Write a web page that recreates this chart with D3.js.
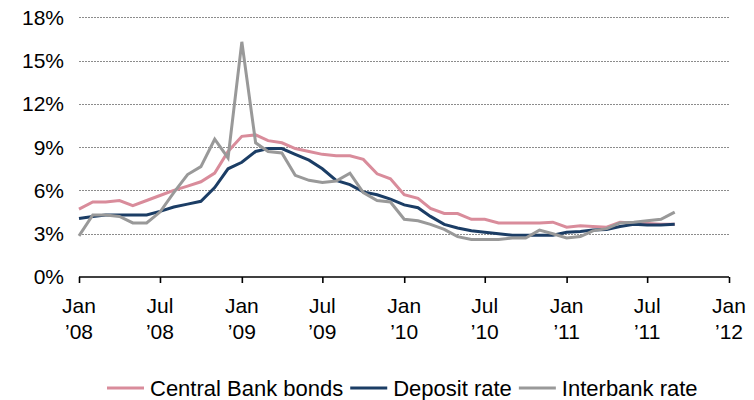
<!DOCTYPE html>
<html>
<head>
<meta charset="utf-8">
<script src="https://cdn.jsdelivr.net/npm/d3@7"></script>
<style>
  html, body { margin: 0; padding: 0; background: #ffffff; }
  svg { display: block; font-family: "Liberation Sans", Arial, sans-serif; }
</style>
</head>
<body>
<svg id="chart" width="754" height="400"></svg>
<script>
// Monthly observations, January 2008 to September 2011
const months = [
  "2008-01","2008-02","2008-03","2008-04","2008-05","2008-06","2008-07","2008-08","2008-09","2008-10","2008-11","2008-12",
  "2009-01","2009-02","2009-03","2009-04","2009-05","2009-06","2009-07","2009-08","2009-09","2009-10","2009-11","2009-12",
  "2010-01","2010-02","2010-03","2010-04","2010-05","2010-06","2010-07","2010-08","2010-09","2010-10","2010-11","2010-12",
  "2011-01","2011-02","2011-03","2011-04","2011-05","2011-06","2011-07","2011-08","2011-09"
];

// Rates, in percent
const centralBankBonds = [
  4.7, 5.2, 5.2, 5.3, 4.95, 5.3, 5.65, 6.0, 6.3, 6.6, 7.2, 8.7,
  9.75, 9.85, 9.45, 9.3, 8.9, 8.7, 8.5, 8.4, 8.4, 8.15, 7.15, 6.8,
  5.7, 5.45, 4.75, 4.4, 4.4, 4.0, 4.0, 3.75, 3.75, 3.75, 3.75, 3.8,
  3.45, 3.55, 3.5, 3.45, 3.8, 3.75, 3.7, 3.65, 3.65
];
const depositRate = [
  4.05, 4.2, 4.3, 4.3, 4.3, 4.3, 4.55, 4.85, 5.05, 5.25, 6.2, 7.5,
  7.95, 8.7, 8.9, 8.9, 8.5, 8.1, 7.5, 6.7, 6.4, 5.9, 5.7, 5.4,
  5.0, 4.8, 4.2, 3.65, 3.4, 3.2, 3.1, 3.0, 2.9, 2.9, 2.9, 2.9,
  3.1, 3.15, 3.25, 3.3, 3.5, 3.65, 3.6, 3.6, 3.65
];
const interbankRate = [
  2.85, 4.3, 4.3, 4.2, 3.75, 3.75, 4.5, 5.85, 7.1, 7.65, 9.55, 8.25,
  16.3, 9.3, 8.7, 8.6, 7.05, 6.7, 6.55, 6.65, 7.2, 5.85, 5.3, 5.2,
  4.0, 3.9, 3.65, 3.3, 2.8, 2.6, 2.6, 2.6, 2.7, 2.7, 3.25, 3.0,
  2.7, 2.8, 3.2, 3.35, 3.75, 3.8, 3.9, 4.0, 4.5
];

const seriesNames = ["Central Bank bonds", "Deposit rate", "Interbank rate"];
const seriesColors = ["#d98c9b", "#1b3d65", "#999999"];

const yTicks = [0, 3, 6, 9, 12, 15, 18];
const xTickDates = ["2008-01","2008-07","2009-01","2009-07","2010-01","2010-07","2011-01","2011-07","2012-01"];
const xTickMonths = ["Jan","Jul","Jan","Jul","Jan","Jul","Jan","Jul","Jan"];
const xTickYears = ["\u201908","\u201908","\u201909","\u201909","\u201910","\u201910","\u201911","\u201911","\u201912"];

const parse = d3.timeParse("%Y-%m");
const dates = months.map(parse);

const svg = d3.select("#chart");
const fontSize = 21;
const legendFontSize = 22;

const x = d3.scaleTime()
  .domain([parse("2008-01"), parse("2012-01")])
  .range([79, 729]);
const y = d3.scaleLinear()
  .domain([0, 18])
  .range([277, 17.3]);

// Horizontal dotted gridlines
svg.append("g")
  .selectAll("line")
  .data(yTicks.filter(t => t > 0))
  .join("line")
  .attr("x1", x.range()[0])
  .attr("x2", x.range()[1])
  .attr("y1", d => Math.round(y(d)) + 0.5)
  .attr("y2", d => Math.round(y(d)) + 0.5)
  .attr("stroke", "#8c8c8c")
  .attr("stroke-width", 1)
  .attr("stroke-dasharray", "2,1");

// Y axis labels
svg.append("g")
  .selectAll("text")
  .data(yTicks)
  .join("text")
  .attr("x", 64)
  .attr("y", d => y(d))
  .attr("dy", "0.35em")
  .attr("text-anchor", "end")
  .attr("font-size", fontSize)
  .attr("fill", "#000")
  .text(d => d + "%");

// X axis line and ticks
const xAxis = d3.axisBottom(x)
  .tickValues(xTickDates.map(parse))
  .tickSize(6)
  .tickFormat("");
const gx = svg.append("g")
  .attr("transform", `translate(0,${y(0)})`)
  .call(xAxis);
gx.select(".domain").attr("stroke", "#000").attr("stroke-width", 1.6).attr("d", `M${x.range()[0]},0H${x.range()[1]}`);
gx.selectAll(".tick line").attr("stroke", "#000").attr("stroke-width", 1.6);

// Two-line date labels
const xl = svg.append("g")
  .selectAll("text")
  .data(xTickDates.map((d, i) => ({ date: parse(d), m: xTickMonths[i], yr: xTickYears[i] })))
  .join("text")
  .attr("text-anchor", "middle")
  .attr("font-size", fontSize)
  .attr("fill", "#000");
xl.append("tspan").attr("x", d => x(d.date)).attr("y", 313).text(d => d.m);
xl.append("tspan").attr("x", d => x(d.date)).attr("y", 339).text(d => d.yr);

// Series lines
const seriesValues = [centralBankBonds, depositRate, interbankRate];
const line = d3.line()
  .x((d, i) => x(dates[i]))
  .y(d => y(d));

svg.append("g")
  .selectAll("path")
  .data(seriesValues)
  .join("path")
  .attr("fill", "none")
  .attr("stroke", (d, i) => seriesColors[i])
  .attr("stroke-width", 3)
  .attr("stroke-linejoin", "miter")
  .attr("d", line);

// Legend
const legend = svg.append("g");
let lx = 107;
const ly = 388;
seriesNames.forEach((name, i) => {
  legend.append("line")
    .attr("x1", lx).attr("x2", lx + 37)
    .attr("y1", ly).attr("y2", ly)
    .attr("stroke", seriesColors[i])
    .attr("stroke-width", 3);
  const t = legend.append("text")
    .attr("x", lx + 43)
    .attr("y", 396)
    .attr("font-size", legendFontSize)
    .attr("fill", "#000")
    .text(name);
  lx = lx + 43 + t.node().getComputedTextLength() + 7;
});
</script>
</body>
</html>
